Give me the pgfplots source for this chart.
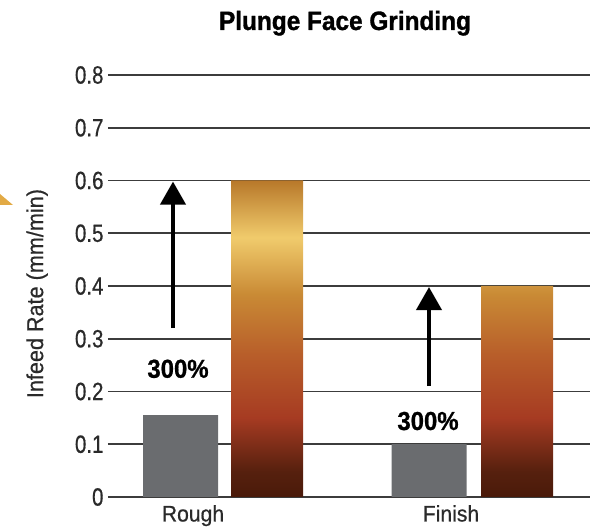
\documentclass[border=0pt]{standalone}
\usepackage{fontspec}
\setmainfont{Liberation Sans}
\newfontfamily\tickfont{Liberation Sans}[FakeStretch=0.82,FakeBold=0.6]
\newfontfamily\labfont{Liberation Sans}[FakeStretch=0.94,FakeBold=0.6]
\newfontfamily\numfont{Liberation Sans}[FakeStretch=0.92,FakeBold=0.8]
\newfontfamily\titfont{Liberation Sans}[FakeStretch=0.92,FakeBold=1.2]
\usepackage{pgfplots}
\pgfplotsset{compat=1.18}
\usetikzlibrary{arrows.meta}
\definecolor{gridc}{HTML}{3C3C3C}
\definecolor{txtc}{HTML}{2A2A2A}
\definecolor{barg}{HTML}{6A6C6F}
\definecolor{tri}{HTML}{E2AA45}
\definecolor{g0}{HTML}{4A1A0A}
\definecolor{g1}{HTML}{56200E}
\definecolor{g2}{HTML}{A63B22}
\definecolor{g3}{HTML}{B85E2A}
\definecolor{g4}{HTML}{C98A35}
\definecolor{g5}{HTML}{F0CB6C}
\definecolor{g6}{HTML}{B8782A}
\pgfdeclareverticalshading{goldbar}{100bp}{color(0bp)=(g0); color(25bp)=(g0); color(29bp)=(g1); color(37.5bp)=(g2); color(47.5bp)=(g3); color(57bp)=(g4); color(66bp)=(g5); color(75bp)=(g6); color(100bp)=(g6)}
\begin{document}
\begin{tikzpicture}
\useasboundingbox (0,0) rectangle (603pt,527pt);
\fill[tri] (0pt,333pt) -- (13pt,322pt) -- (0pt,322pt) -- cycle;
\begin{axis}[
  at={(108pt,30pt)}, anchor=south west,
  scale only axis, width=482pt, height=422pt,
  xmin=108, xmax=590, ymin=0, ymax=0.8,
  clip=false,
  axis line style={draw=none},
  major tick length=0pt,
  ymajorgrids,
  grid style={gridc, line width=1.6pt},
  ytick={0,0.1,0.2,0.3,0.4,0.5,0.6,0.7,0.8},
  yticklabels={0,0.1,0.2,0.3,0.4,0.5,0.6,0.7,0.8},
  yticklabel style={font=\fontsize{25}{25}\selectfont\tickfont, color=txtc, anchor=east, xshift=-1pt},
  xtick={193,451},
  xticklabels={Rough,Finish},
  xticklabel style={font=\fontsize{22.5}{22.5}\selectfont\labfont, color=txtc, anchor=base, yshift=-24.5pt},
  ylabel={Infeed Rate (mm/min)},
  ylabel style={at={(axis description cs:-0.147,0.482)}, anchor=center, font=\fontsize{23}{23}\selectfont\labfont, color=txtc},
  title={Plunge Face Grinding},
  title style={at={(axis description cs:0.4917,1)}, anchor=base, yshift=39pt, font=\fontsize{26.5}{26.5}\selectfont\titfont\bfseries},
]
\addplot[ybar, bar width=75, bar shift=0pt, fill=barg, draw=none] coordinates {(180.5,0.155) (429,0.1)};
\addplot[ybar, bar width=72, bar shift=0pt, draw=none, shading=goldbar] coordinates {(267,0.6) (517,0.4)};
\addplot[black, line width=4pt, -{Triangle[width=25pt,length=23pt]}] coordinates {(173,0.32) (173,0.598)};
\addplot[black, line width=4pt, -{Triangle[width=25pt,length=23pt]}] coordinates {(429,0.21) (429,0.398)};
\node[font=\fontsize{26}{26}\selectfont\numfont\bfseries, text=black] at (axis cs:178,0.243) {300\%};
\node[font=\fontsize{26}{26}\selectfont\numfont\bfseries, text=black] at (axis cs:428,0.144) {300\%};
\end{axis}
\end{tikzpicture}
\end{document}
